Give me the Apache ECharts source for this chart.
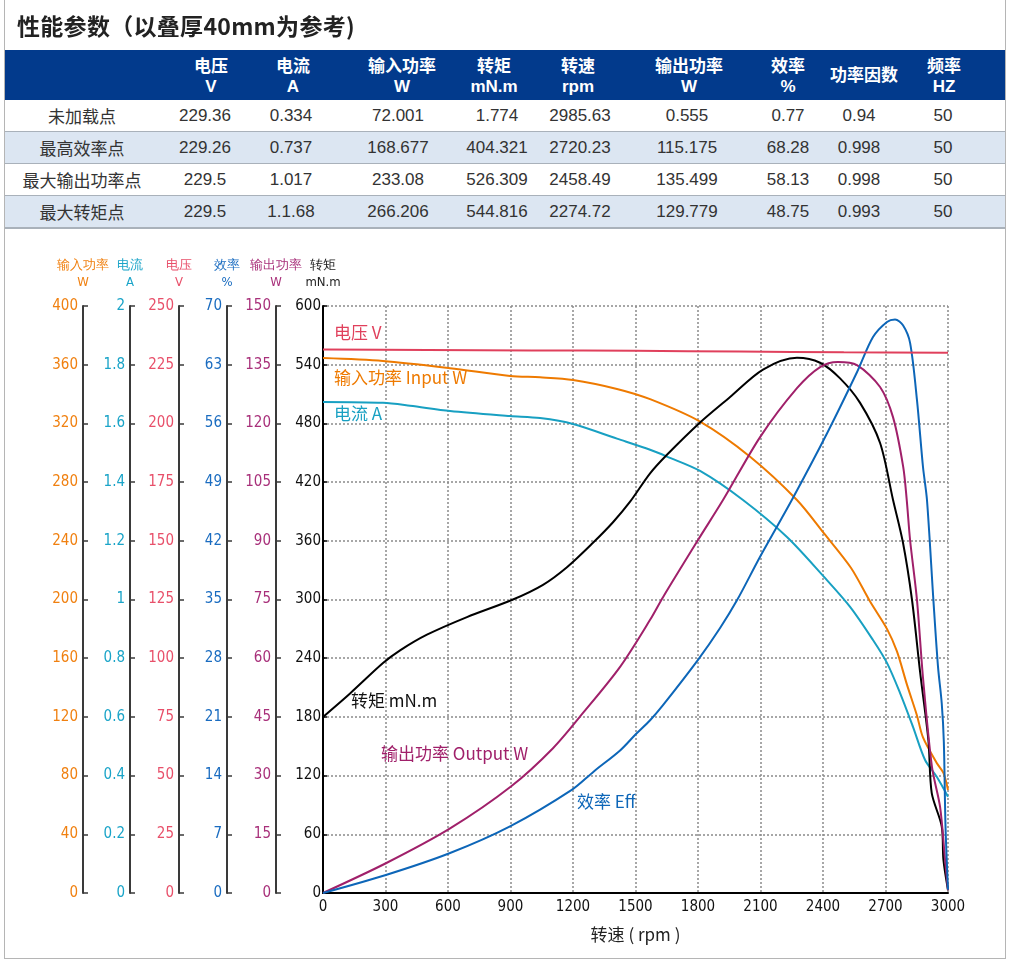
<!DOCTYPE html>
<html>
<head>
<meta charset="utf-8">
<title>性能参数</title>
<script src="https://cdn.jsdelivr.net/npm/echarts@6/dist/echarts.min.js"></script>
<style>
html, body { margin: 0; padding: 0; background: #fff; }
#wrap { position: relative; width: 1010px; height: 975px; overflow: hidden; }
#chart { position: absolute; left: 0; top: 0; width: 1010px; height: 975px; }
#frame { position: absolute; left: 4px; top: -1px; width: 1002px; height: 960px; border: 1px solid #b5b5b5; box-sizing: border-box; }
#title { position: absolute; left: 17px; top: 8px; font: bold 23px 'Noto Sans CJK SC', sans-serif; color: #222; white-space: nowrap; letter-spacing: 0.3px; }
#tbl { position: absolute; left: 0; top: 0; width: 1010px; height: 240px; }
.band { position: absolute; left: 5px; width: 1000px; }
.cell { position: absolute; width: 140px; margin-left: -70px; text-align: center; white-space: nowrap; }
.hd { color: #fff; font: bold 17px 'Liberation Sans', Arial, 'Noto Sans CJK SC', sans-serif; line-height: 20px; }
.rv { color: #333; font: 17px 'Liberation Sans', Arial, 'Noto Sans CJK SC', sans-serif; line-height: 20px; }
.rl { color: #333; font: 17px 'Noto Sans CJK SC', sans-serif; line-height: 20px; }
</style>
</head>
<body>
<div id="wrap">
  <div id="chart"></div>
  <div id="tbl"></div>
  <div id="title">性能参数（以叠厚40mm为参考)</div>
  <div id="frame"></div>
</div>
<script>
// table
var headNames = ['电压', '电流', '输入功率', '转矩', '转速', '输出功率', '效率', '功率因数', '频率'];
var headUnits = ['V', 'A', 'W', 'mN.m', 'rpm', 'W', '%', '', 'HZ'];
var rowNames = ['未加载点', '最高效率点', '最大输出功率点', '最大转矩点'];
var rowNoLoad   = ['229.36', '0.334', '72.001', '1.774', '2985.63', '0.555', '0.77', '0.94', '50'];
var rowMaxEff   = ['229.26', '0.737', '168.677', '404.321', '2720.23', '115.175', '68.28', '0.998', '50'];
var rowMaxOut   = ['229.5', '1.017', '233.08', '526.309', '2458.49', '135.499', '58.13', '0.998', '50'];
var rowMaxTorq  = ['229.5', '1.1.68', '266.206', '544.816', '2274.72', '129.779', '48.75', '0.993', '50'];
var tableRows = [rowNoLoad, rowMaxEff, rowMaxOut, rowMaxTorq];

// curves (x = 转速 rpm)
var voltRpm = [0, 500, 1000, 1500, 2000, 2500, 3000];
var voltVal = [231.5, 231.3, 231.1, 230.9, 230.6, 230.3, 230.1];

var inRpm = [0, 288, 610, 898, 1042, 1200, 1411, 1570, 1810, 2050, 2275, 2405, 2534, 2626, 2707, 2755, 2803, 2851, 2880, 2946, 2978, 3000];
var inVal = [364.5, 362.5, 357.6, 352.3, 351.4, 349.6, 343.5, 336.5, 321.2, 297.3, 267.8, 245, 221.6, 198.6, 180, 164.6, 142, 121, 106, 88.6, 81.8, 70.2];

var curRpm = [0, 288, 418, 610, 898, 1042, 1200, 1411, 1570, 1651, 1810, 2016, 2227, 2405, 2530, 2640, 2707, 2770, 2832, 2890, 2946, 3000];
var curVal = [1.673, 1.67, 1.66, 1.642, 1.625, 1.618, 1.598, 1.548, 1.51, 1.487, 1.438, 1.339, 1.213, 1.077, 0.975, 0.862, 0.784, 0.681, 0.566, 0.453, 0.396, 0.328];

var torRpm = [0, 130, 288, 370, 499, 691, 912, 1056, 1171, 1296, 1392, 1474, 1570, 1651, 1810, 1954, 2112, 2275, 2386, 2482, 2578, 2674, 2736, 2784, 2827, 2866, 2906, 2922, 2970, 2978, 3000];
var torVal = [180, 204, 235, 248, 264, 282, 300, 315, 333, 358, 379, 400, 429, 448, 481, 507, 535, 547, 542, 526, 501, 460, 402, 358, 300, 226, 156, 102, 68, 34, 3];

var outRpm = [0, 302, 610, 902, 1104, 1248, 1426, 1570, 1632, 1800, 1920, 2098, 2275, 2386, 2472, 2563, 2674, 2736, 2785, 2802, 2818, 2851, 2880, 2923, 2962, 2986, 3000];
var outVal = [0, 7.6, 16.5, 27.2, 37, 46, 57.8, 69.8, 75.6, 90.2, 100.4, 116.5, 129, 134.4, 135.7, 134.9, 129.3, 121.6, 108.9, 100.4, 90.2, 74.9, 55, 32.2, 22, 8.4, 0.7];

var effRpm = [0, 302, 607, 900, 1194, 1300, 1426, 1500, 1570, 1632, 1800, 1906, 1987, 2098, 2251, 2419, 2563, 2640, 2707, 2746, 2784, 2818, 2851, 2880, 2899, 2930, 2952, 2970, 2980, 2988, 3000];
var effVal = [0, 2.15, 4.74, 7.98, 12.3, 14.5, 17.0, 18.9, 20.6, 22.4, 27.8, 31.6, 34.9, 40.1, 46.9, 54.8, 62.1, 66.3, 68.1, 68.4, 67.7, 65.6, 58.8, 50.8, 46.9, 34.9, 27, 22.6, 18, 8, 0.4];

// axis ticks
var inTicks  = { max: 400, step: 40 };
var curTicks = { max: 2, step: 0.2 };
var volTicks = { max: 250, step: 25 };
var effTicks = { max: 70, step: 7 };
var outTicks = { max: 150, step: 15 };
var torTicks = { max: 600, step: 60 };
var rpmTicks = { max: 3000, step: 300 };

function buildTable() {
    var box = document.getElementById('tbl');
    var html = '';
    var headCx = [211, 293, 402, 494, 578, 689, 788, 864, 944];
    var valCx = [205, 291, 398, 497, 580, 687, 788, 859, 943];
    html += '<div class="band" style="top:50px;height:50px;background:#023a8c"></div>';
    var bandTops = [100, 132, 164, 196];
    for (var r = 0; r < 4; r++) {
        var bg = (r % 2 == 1) ? '#dce6f2' : '#fff';
        html += '<div class="band" style="top:' + bandTops[r] + 'px;height:32px;background:' + bg + '"></div>';
        html += '<div class="band" style="top:' + (bandTops[r] + 31) + 'px;height:2px;background:#a9b1ba"></div>';
    }
    for (var i = 0; i < headNames.length; i++) {
        if (headUnits[i]) {
            html += '<div class="cell hd" style="left:' + headCx[i] + 'px;top:57px">' + headNames[i] + '<br>' + headUnits[i] + '</div>';
        } else {
            html += '<div class="cell hd" style="left:' + headCx[i] + 'px;top:66px">' + headNames[i] + '</div>';
        }
    }
    for (var r = 0; r < tableRows.length; r++) {
        var cy = bandTops[r] + 6;
        html += '<div class="cell rl" style="left:82px;top:' + cy + 'px">' + rowNames[r] + '</div>';
        for (var c = 0; c < tableRows[r].length; c++) {
            html += '<div class="cell rv" style="left:' + valCx[c] + 'px;top:' + cy + 'px">' + tableRows[r][c] + '</div>';
        }
    }
    box.innerHTML = html;
}

function zip(xs, ys) {
    var out = [];
    for (var i = 0; i < xs.length; i++) out.push([xs[i], ys[i]]);
    return out;
}

var narrow = "'Liberation Sans Narrow', 'DejaVu Sans Condensed', 'Liberation Sans', sans-serif";
var cjk = "'Noto Sans CJK SC', sans-serif";

function plain(v) { return String(v); }

function sideAxis(name, ticks, offset, color) {
    return {
        type: 'value', position: 'left', offset: offset,
        min: 0, max: ticks.max, interval: ticks.step,
        name: name, nameLocation: 'end', nameGap: 15,
        nameTextStyle: { color: color, fontSize: 13, lineHeight: 17, fontFamily: narrow },
        axisLine: { show: true, onZero: false, lineStyle: { color: '#3a3a3a', width: 2 } },
        axisTick: { show: true, inside: true, length: 5, lineStyle: { color: '#3a3a3a', width: 1.5 } },
        axisLabel: { color: color, fontSize: 15, margin: 5, fontFamily: narrow, formatter: plain },
        splitLine: { show: false }
    };
}

function lineSeries(name, yIdx, data, color) {
    return {
        name: name, type: 'line', xAxisIndex: 0, yAxisIndex: yIdx,
        data: data, smooth: 0.3,
        showSymbol: false, symbol: 'none', silent: true, animation: false,
        lineStyle: { color: color, width: 2 },
        itemStyle: { color: color }
    };
}

function label(text, x, y, color) {
    return {
        type: 'text', left: x, top: y - 12,
        style: { text: text, fill: color, font: '17px ' + cjk }
    };
}

function init_chart() {
    buildTable();
    var chart = echarts.init(document.getElementById('chart'), null, { renderer: 'canvas' });
    var option = {
        animation: false,
        backgroundColor: 'transparent',
        grid: { left: 323, top: 306, width: 625, height: 587, containLabel: false, outerBoundsMode: 'none' },
        xAxis: {
            type: 'value', min: 0, max: rpmTicks.max, interval: rpmTicks.step,
            name: '转速 ( rpm )', nameLocation: 'middle', nameGap: 33,
            nameTextStyle: { color: '#222', fontSize: 17, fontFamily: cjk },
            axisLine: { onZero: false, lineStyle: { color: '#000', width: 2 } },
            axisTick: { show: false },
            axisLabel: { color: '#111', fontSize: 15, margin: 7, fontFamily: narrow, formatter: plain },
            splitLine: { show: true, lineStyle: { type: [2, 2], color: '#8a8a8a', width: 1.5 } }
        },
        yAxis: [
            {
                type: 'value', position: 'left', offset: 0,
                min: 0, max: torTicks.max, interval: torTicks.step,
                name: '转矩\nmN.m', nameLocation: 'end', nameGap: 15,
                nameTextStyle: { color: '#222', fontSize: 13, lineHeight: 17, fontFamily: narrow },
                axisLine: { show: true, onZero: false, lineStyle: { color: '#000', width: 2 } },
                axisTick: { show: true, inside: true, length: 4, lineStyle: { color: '#000', width: 1.5 } },
                axisLabel: { color: '#111', fontSize: 15, margin: 2, fontFamily: narrow, formatter: plain },
                splitLine: { show: true, lineStyle: { type: [2, 2], color: '#8a8a8a', width: 1.5 } }
            },
            sideAxis('输出功率\nW', outTicks, 47, '#a8307a'),
            sideAxis('效率\n%', effTicks, 96, '#1a6cc0'),
            sideAxis('电压\nV', volTicks, 144, '#e8506a'),
            sideAxis('电流\nA', curTicks, 193, '#1aa4c8'),
            sideAxis('输入功率\nW', inTicks, 240, '#f08010')
        ],
        series: [
            lineSeries('输入功率', 5, zip(inRpm, inVal), '#ee7a00'),
            lineSeries('电流', 4, zip(curRpm, curVal), '#18a0c2'),
            lineSeries('转矩', 0, zip(torRpm, torVal), '#000'),
            lineSeries('输出功率', 1, zip(outRpm, outVal), '#a0206a'),
            lineSeries('效率', 2, zip(effRpm, effVal), '#0d66b8'),
            lineSeries('电压', 3, zip(voltRpm, voltVal), '#e0405c')
        ],
        graphic: [
            label('电压 V', 334, 336, '#e0405c'),
            label('输入功率 Input W', 334, 381, '#ee7a00'),
            label('电流 A', 334, 417, '#18a0c2'),
            label('转矩 mN.m', 351, 704, '#111'),
            label('输出功率 Output W', 381, 757, '#a0206a'),
            label('效率 Eff', 577, 805, '#0d66b8')
        ]
    };
    chart.setOption(option);
}
init_chart();
</script>
</body>
</html>
